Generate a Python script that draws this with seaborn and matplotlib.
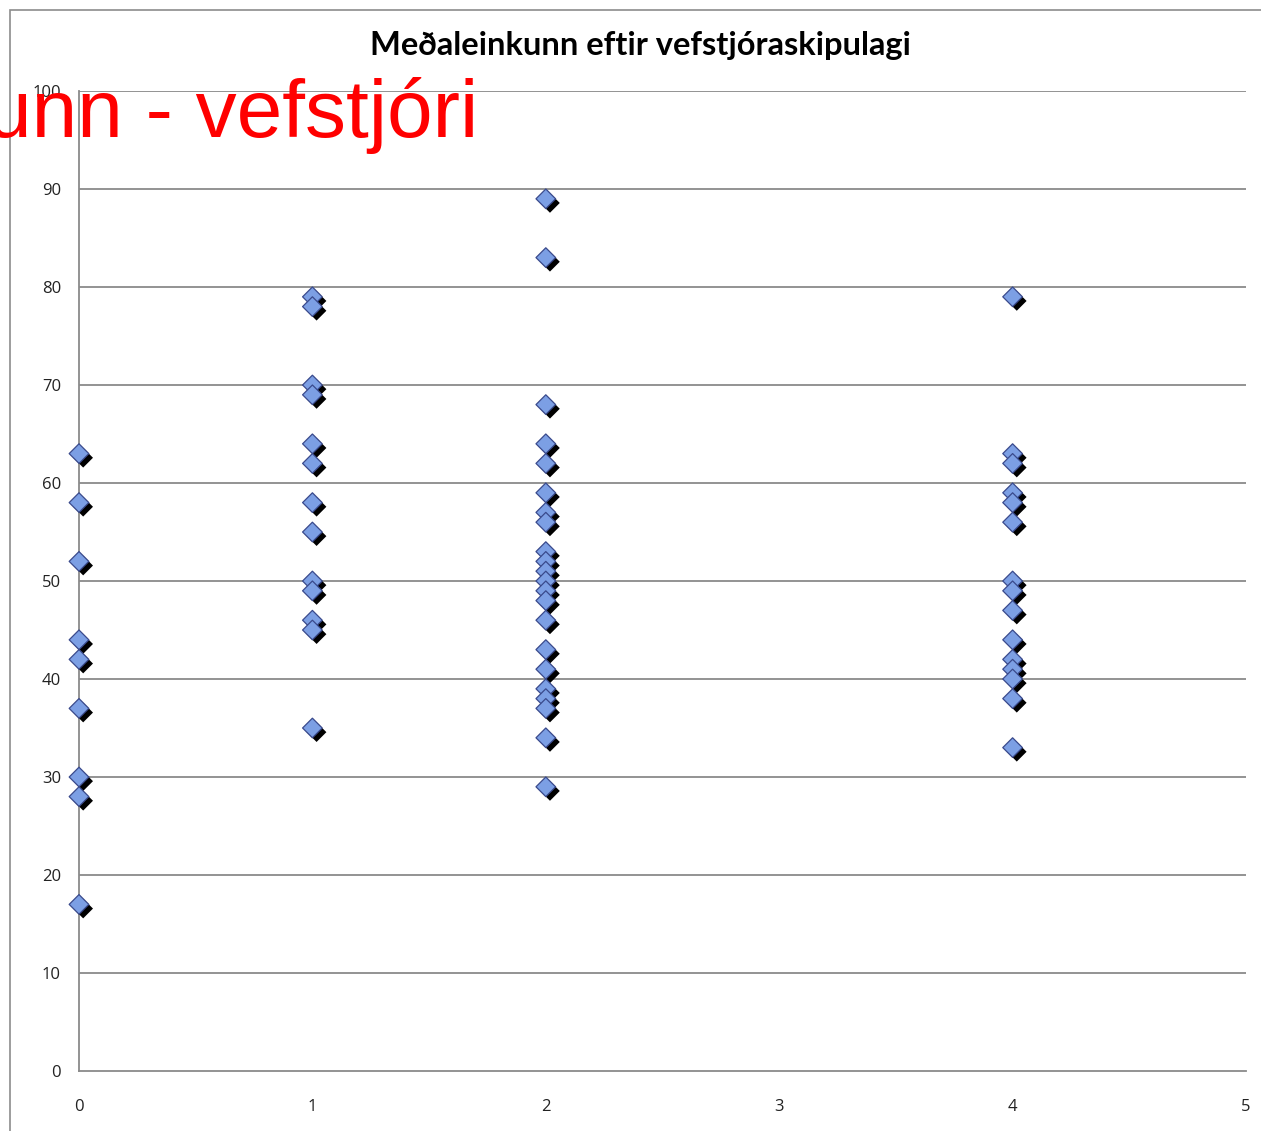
import matplotlib
matplotlib.use("Agg")
import matplotlib.pyplot as plt
import matplotlib.patheffects as pe
from matplotlib.patches import Rectangle
import seaborn as sns
import pandas as pd

# ---- data ----
group0 = [63, 58, 52, 44, 42, 37, 30, 28, 17]
group1 = [79, 78, 70, 69, 64, 62, 58, 55, 50, 49, 46, 45, 35]
group2 = [89, 83, 68, 64, 62, 59, 57, 56, 53, 52, 51, 50, 49, 48, 46,
          43, 41, 39, 38, 37, 34, 29]
group4 = [79, 63, 62, 59, 58, 56, 50, 49, 47, 44, 42, 41, 40, 38, 33]
x_values = [0, 1, 2, 4]
x_ticks = [0, 1, 2, 3, 4, 5]
y_ticks = [0, 10, 20, 30, 40, 50, 60, 70, 80, 90, 100]
title = "Meðaleinkunn eftir vefstjóraskipulagi"
overlay = "Meðaleinkunn - vefstjóri"

xs, ys = [], []
for xv, grp in zip(x_values, [group0, group1, group2, group4]):
    xs += [xv] * len(grp)
    ys += grp
df = pd.DataFrame({"x": xs, "y": ys})

sns.set_theme(style="white")
plt.rcParams["font.family"] = ["Open Sans", "DejaVu Sans"]

W, H = 1261, 1131
fig = plt.figure(figsize=(W / 100, H / 100), dpi=100)
fig.patch.set_facecolor("white")

# outer chart frame
fig.patches.append(Rectangle((10 / W, -0.1), 1.2, (H - 10) / H + 0.1,
                             transform=fig.transFigure, fill=False,
                             edgecolor="#8c8c8c", linewidth=1.2))

ax = fig.add_axes([79 / W, (H - 1071) / H, (1246 - 79) / W, (1071 - 91) / H])
ax.set_facecolor("none")

sns.scatterplot(data=df, x="x", y="y", ax=ax, marker="D", s=100,
                color="#7C9FE4", edgecolor="#3A4A8C", linewidth=0.9,
                clip_on=False, zorder=5, legend=False)
for coll in ax.collections:
    coll.set_path_effects([pe.SimplePatchShadow(offset=(3, -3), shadow_rgbFace="black",
                                                alpha=1.0),
                           pe.Normal()])

ax.set_xlim(0, 5)
ax.set_ylim(0, 100)
ax.set_xticks(x_ticks)
ax.set_yticks(y_ticks)
ax.set_xlabel("")
ax.set_ylabel("")
ax.grid(False)
for yv in y_ticks[1:]:
    ax.axhline(yv, color="#8a8a8a", linewidth=1.3, zorder=1)

for s in ["top", "right"]:
    ax.spines[s].set_visible(False)
for s in ["left", "bottom"]:
    ax.spines[s].set_color("#8a8a8a")
    ax.spines[s].set_linewidth(1.3)
ax.tick_params(axis="both", which="major", direction="out", length=7, width=1.3,
               color="#8a8a8a", labelsize=12, labelcolor="#222222")
ax.tick_params(axis="y", pad=6)
ax.tick_params(axis="x", pad=13)

fig.text(640 / W, 1 - 46 / H, title, ha="center", va="center",
         fontsize=23.5, fontweight="bold", color="black", family=["Lato", "DejaVu Sans"])

fig.text(478 / W, 1 - 137 / H, overlay, ha="right", va="baseline",
         fontsize=59, color="#FF0000", family=["Liberation Sans", "DejaVu Sans"])

fig.savefig("out.png", dpi=100)
